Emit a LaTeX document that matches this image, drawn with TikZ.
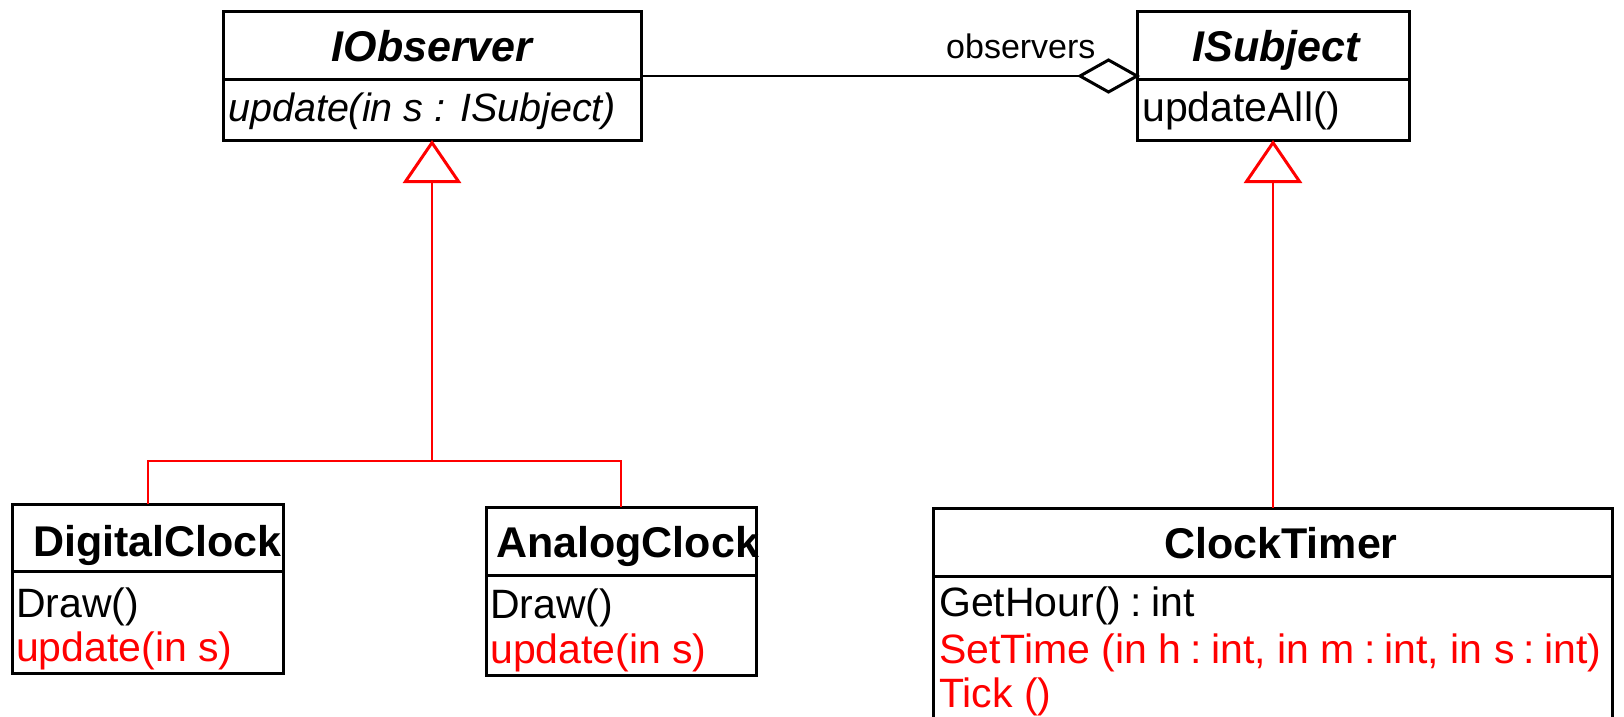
\documentclass[tikz,border=0pt]{standalone}
\usepackage{fontspec}
\setmainfont{Liberation Sans}
\usetikzlibrary{arrows.meta,shapes.geometric}
\newcommand\ttlfont{\fontsize{43}{50}\selectfont\bfseries}
\newcommand\txtfont{\fontsize{41}{48}\selectfont}
\newcommand\lblfont{\fontsize{34}{40}\selectfont}
\newcommand\cln{\hspace{0.225em}:\hspace{0.225em}}
\begin{document}
\begin{tikzpicture}[x=1pt,y=-1pt,
  box/.style={draw, line width=3pt, rectangle, inner sep=0pt, outer sep=0pt},
  divider/.style={line width=3pt},
  ttl/.style={inner sep=0pt, font=\ttlfont},
  txt/.style={inner sep=0pt, anchor=base west, font=\txtfont},
  redtxt/.style={txt, text=red},
  assoc/.style={line width=2pt},
  genline/.style={draw=red, line width=2pt},
  gentip/.style={-{Triangle[open, length=43pt, width=58pt, line width=3pt]}}]
\useasboundingbox (0,0) rectangle (1624,717);
\clip (0,0) rectangle (1624,717);

% IObserver
\node[box, minimum width=418pt, minimum height=128pt] (obs) at (432,76) {};
\coordinate (obsD) at (0,79);
\draw[divider] (obs.west |- obsD) -- (obs.east |- obsD);
\node[ttl, anchor=base, font=\ttlfont\itshape] (obsN) at (432,62) {IObserver};
\node[txt, font=\fontsize{39.5}{47}\selectfont\itshape] (obsM) at (228,121) {update(in s : ISubject)};

% ISubject
\node[box, minimum width=272pt, minimum height=128pt] (subj) at (1273,76) {};
\draw[divider] (subj.west |- obsD) -- (subj.east |- obsD);
\node[ttl, anchor=base, font=\ttlfont\itshape] (subjN) at (1276,62) {ISubject};
\node[txt] (subjM) at (1142,121) {updateAll()};

% aggregation
\node[diamond, draw, line width=3pt, fill=white, minimum width=57pt, minimum height=32pt, inner sep=0pt, outer sep=0pt] (agg) at (1108.5,76) {};
\draw[assoc] (obs.east) -- (agg.west);
\node[inner sep=0pt, anchor=base west, font=\lblfont] (aggL) at (946,59) {observers};

% DigitalClock
\node[box, minimum width=270.5pt, minimum height=169pt] (dig) at (147.75,588.5) {};
\coordinate (digD) at (0,571);
\draw[divider] (dig.west |- digD) -- (dig.east |- digD);
\node[ttl, anchor=base west] (digN) at (33,556) {DigitalClock};
\node[txt] (digM1) at (16,617) {Draw()};
\node[redtxt] (digM2) at (16,661) {update(in s)};

% AnalogClock
\node[box, minimum width=270pt, minimum height=168pt] (ana) at (621,591) {};
\coordinate (anaD) at (0,575);
\draw[divider] (ana.west |- anaD) -- (ana.east |- anaD);
\node[ttl, anchor=base west] (anaN) at (496,557) {AnalogClock};
\node[txt] (anaM1) at (490,618) {Draw()};
\node[redtxt] (anaM2) at (490,663) {update(in s)};

% ClockTimer
\node[box, minimum width=679pt, minimum height=252pt] (ct) at (1273,634) {};
\coordinate (ctD) at (0,576);
\draw[divider] (ct.west |- ctD) -- (ct.east |- ctD);
\node[ttl, anchor=base] (ctN) at (1281,558) {ClockTimer};
\node[txt] (ctM1) at (939,616) {GetHour()\cln int};
\node[redtxt] (ctM2) at (939,663) {SetTime (in h\cln int, in m\cln int, in s\cln int)};
\node[redtxt] (ctM3) at (939,707) {Tick ()};

% generalizations
\coordinate (j) at (obs.south |- 0,461);
\draw[genline, gentip] (dig.north) |- (j) -- (obs.south);
\draw[genline] (ana.north) |- (j);
\draw[genline, gentip] (ct.north) -- (subj.south);
\end{tikzpicture}
\end{document}
